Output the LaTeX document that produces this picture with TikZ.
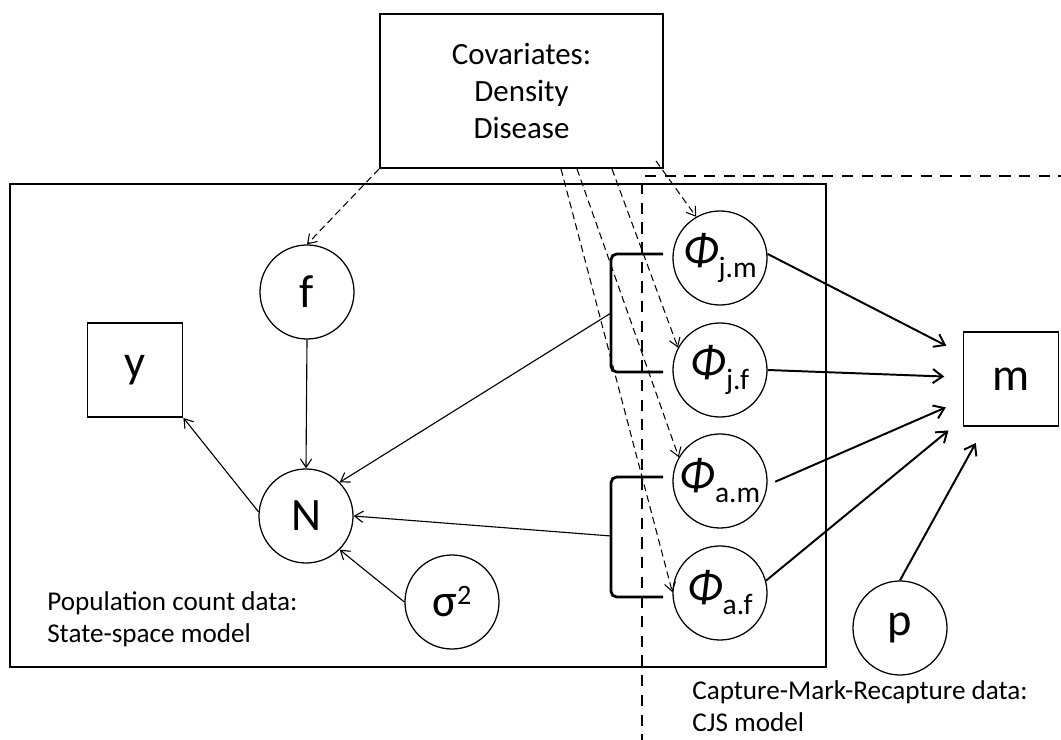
\documentclass[tikz,border=0pt]{standalone}
\usepackage{fontspec}
\setmainfont{Carlito}
\usetikzlibrary{arrows.meta,calc}

\newcommand{\biglbl}{\fontsize{33}{36}\selectfont}
\newcommand{\covlbl}{\fontsize{22}{26.6}\selectfont}
\newcommand{\notelbl}{\fontsize{19.3}{22.7}\selectfont}
\newcommand{\phisub}[1]{{\biglbl\itshape Φ}\raisebox{-8.5pt}{\fontsize{21}{21}\selectfont #1}}

\begin{document}
\begin{tikzpicture}[x=0.025cm, y=-0.025cm,
    var/.style={circle, draw, line width=0.9pt, minimum size=2.35cm, inner sep=0pt, font=\biglbl},
    data/.style={rectangle, draw, line width=1.3pt, minimum width=2.375cm, minimum height=2.35cm, inner sep=0pt, font=\biglbl},
    dep/.style={-{Straight Barb[length=6pt,width=8pt]}, line width=0.8pt},
    surv/.style={-{Straight Barb[length=7pt,width=10pt]}, line width=1.4pt, shorten >=13pt},
    covar/.style={-{Straight Barb[length=6pt,width=8pt]}, line width=0.75pt, dash pattern=on 5pt off 3pt},
    brace/.style={line width=2pt, rounded corners=4pt},
    modelbox/.style={line width=2pt, dash pattern=on 8pt off 6pt},
    note/.style={align=left, anchor=west, inner sep=0pt, font=\notelbl}]
  \useasboundingbox (0,0) rectangle (1061,740);
  \node[rectangle, draw, line width=1.3pt, minimum width=7.075cm, minimum height=3.85cm, align=center, font=\covlbl] (cov) at (521.5,91) {Covariates:\\Density\\Disease};
  \draw[line width=2pt] (10,184) rectangle (826,667);
  \draw[modelbox] (645,176) -- (1061,176);
  \draw[modelbox] (642,183) -- (642,740);
  \node[var] (f) at (307,292) {f};
  \node[data] (y) at (135,370) {y};
  \node[var] (N) at (306,516) {N};
  \node[var] (sig) at (452,602) {σ\raisebox{8.5pt}{\fontsize{20}{20}\selectfont 2}};
  \node[var, label={center:\phisub{j.m}}] (phijm) at (720,258) {};
  \node[var, label={center:\phisub{j.f}}] (phijf) at (720,370) {};
  \node[var, label={center:\phisub{a.m}}] (phiam) at (720,481) {};
  \node[var, label={center:\phisub{a.f}}] (phiaf) at (720,593) {};
  \node[var] (p) at (900,628) {p};
  \node[data] (m) at (1011,379) {m};
  \coordinate (bj) at (611,313);
  \coordinate (ba) at (611,536);
  \draw[brace] (663,254) -- (611,254) -- (611,372) -- (663,372);
  \draw[brace] (663,477) -- (611,477) -- (611,597) -- (663,597);
  \draw[dep] (f.south) -- (N.north);
  \draw[dep] (N.175) -- (y.south east);
  \draw[dep] (sig.west) -- (N.south east);
  \draw[dep] (bj) -- (N.north east);
  \draw[dep] (ba) -- (N.east);
  \draw[covar] (cov.south west) -- (f.north);
  \draw[covar] ($(cov.south east)+(-8,-8)$) -- (phijm.120);
  \draw[covar] ($(cov.south)+(90.5,0)$) -- (phijf.152);
  \draw[covar] ($(cov.south)+(55.5,0)$) -- (phiam.150);
  \draw[covar] ($(cov.south)+(39.5,0)$) -- (phiaf.179);
  \draw[surv] (phijm.5) -- (m);
  \draw[surv] (phijf.east) -- (m);
  \draw[surv, shorten <=6pt] (phiam.-5) -- (m);
  \draw[surv] (phiaf.15) -- (m);
  \draw[surv] (p.north) -- (m);
  \node[note] (popnote) at (47,619) {Population count data:\\State-space model};
  \node[note] (cjsnote) at (692,706) {Capture-Mark-Recapture data:\\CJS model};
\end{tikzpicture}
\end{document}
